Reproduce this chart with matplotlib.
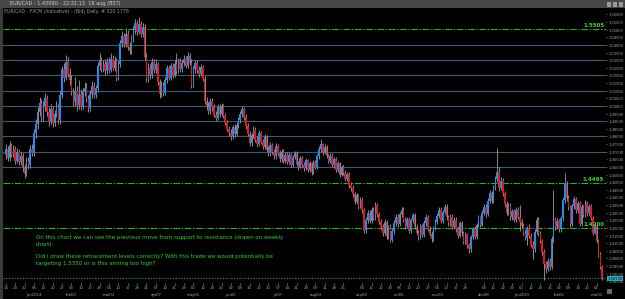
import matplotlib.pyplot as plt
import matplotlib.transforms as mtransforms
from matplotlib.patches import Rectangle
import numpy as np
import pandas as pd

# daily EUR/CAD candles, dec 16 2013 -> mar 2015
first_open = 1.4680
close = [
    1.4720, 1.4660, 1.4745, 1.4685, 1.4720, 1.4640, 1.4700, 1.4630, 1.4675, 1.4595,
    1.4555, 1.4640, 1.4610, 1.4720, 1.4690, 1.4820, 1.4880, 1.4960, 1.5020, 1.4930,
    1.5000, 1.5050, 1.4960, 1.4900, 1.4980, 1.4890, 1.4950, 1.4990, 1.4905, 1.5070,
    1.5240, 1.5185, 1.5290, 1.5210, 1.5170, 1.5090, 1.5030, 1.5100, 1.5005, 1.5080,
    1.5000, 1.5095, 1.5120, 1.5045, 1.4985, 1.5080, 1.5130, 1.5070, 1.5115, 1.5265,
    1.5300, 1.5245, 1.5275, 1.5230, 1.5290, 1.5235, 1.5310, 1.5250, 1.5295, 1.5185,
    1.5275, 1.5415, 1.5460, 1.5405, 1.5475, 1.5390, 1.5360, 1.5445, 1.5500, 1.5545,
    1.5485, 1.5540, 1.5470, 1.5520, 1.5320, 1.5180, 1.5250, 1.5200, 1.5290, 1.5235,
    1.5275, 1.5160, 1.5080, 1.5140, 1.5085, 1.5170, 1.5250, 1.5185, 1.5260, 1.5205,
    1.5275, 1.5230, 1.5295, 1.5240, 1.5285, 1.5310, 1.5265, 1.5330, 1.5285, 1.5140,
    1.5240, 1.5285, 1.5235, 1.5210, 1.5255, 1.5180, 1.5035, 1.4995, 1.4965, 1.5035,
    1.4990, 1.4940, 1.4920, 1.4995, 1.4950, 1.5000, 1.4935, 1.4890, 1.4850, 1.4820,
    1.4800, 1.4860, 1.4815, 1.4875, 1.4910, 1.4950, 1.4980, 1.4925, 1.4870, 1.4815,
    1.4755, 1.4810, 1.4845, 1.4780, 1.4750, 1.4820, 1.4765, 1.4730, 1.4795, 1.4710,
    1.4690, 1.4745, 1.4700, 1.4670, 1.4735, 1.4690, 1.4650, 1.4700, 1.4640, 1.4680,
    1.4635, 1.4680, 1.4615, 1.4665, 1.4690, 1.4620, 1.4600, 1.4660, 1.4610, 1.4595,
    1.4645, 1.4580, 1.4625, 1.4565, 1.4630, 1.4595, 1.4670, 1.4720, 1.4750, 1.4695,
    1.4730, 1.4670, 1.4640, 1.4675, 1.4610, 1.4650, 1.4580, 1.4625, 1.4550, 1.4600,
    1.4560, 1.4520, 1.4555, 1.4480, 1.4460, 1.4420, 1.4370, 1.4415, 1.4340, 1.4385,
    1.4315, 1.4185, 1.4255, 1.4300, 1.4245, 1.4320, 1.4265, 1.4350, 1.4290, 1.4240,
    1.4205, 1.4170, 1.4240, 1.4140, 1.4205, 1.4120, 1.4180, 1.4230, 1.4270, 1.4225,
    1.4290, 1.4320, 1.4255, 1.4215, 1.4260, 1.4180, 1.4250, 1.4285, 1.4205, 1.4170,
    1.4140, 1.4210, 1.4155, 1.4235, 1.4270, 1.4195, 1.4160, 1.4130, 1.4200, 1.4240,
    1.4280, 1.4320, 1.4245, 1.4305, 1.4340, 1.4270, 1.4230, 1.4275, 1.4205, 1.4255,
    1.4190, 1.4150, 1.4230, 1.4165, 1.4110, 1.4160, 1.4085, 1.4060, 1.4140, 1.4190,
    1.4140, 1.4220, 1.4270, 1.4220, 1.4300, 1.4340, 1.4290, 1.4380, 1.4430, 1.4380,
    1.4470, 1.4520, 1.4570, 1.4465, 1.4510, 1.4430, 1.4360, 1.4300, 1.4350, 1.4270,
    1.4310, 1.4255, 1.4320, 1.4275, 1.4240, 1.4215, 1.4170, 1.4135, 1.4200, 1.4150,
    1.4090, 1.4060, 1.4175, 1.4255, 1.4160, 1.4115, 1.4040, 1.3965, 1.3930, 1.3985,
    1.3945, 1.4125, 1.4255, 1.4205, 1.4245, 1.4190, 1.4265, 1.4385, 1.4495, 1.4395,
    1.4335, 1.4225, 1.4345, 1.4390, 1.4315, 1.4365, 1.4225, 1.4340, 1.4285, 1.4370,
    1.4295, 1.4345, 1.4265, 1.4170, 1.4215, 1.4115, 1.4025, 1.3945, 1.3870,
]
high = [
    1.4750, 1.4740, 1.4770, 1.4760, 1.4745, 1.4735, 1.4725, 1.4715, 1.4700, 1.4690,
    1.4620, 1.4665, 1.4665, 1.4745, 1.4750, 1.4850, 1.4915, 1.4990, 1.5060, 1.5045,
    1.5030, 1.5085, 1.5075, 1.4990, 1.5010, 1.5000, 1.4975, 1.5030, 1.5010, 1.5095,
    1.5265, 1.5280, 1.5335, 1.5320, 1.5250, 1.5200, 1.5120, 1.5190, 1.5130, 1.5170,
    1.5110, 1.5120, 1.5160, 1.5150, 1.5075, 1.5105, 1.5165, 1.5155, 1.5140, 1.5290,
    1.5345, 1.5320, 1.5300, 1.5310, 1.5315, 1.5320, 1.5345, 1.5335, 1.5325, 1.5315,
    1.5295, 1.5430, 1.5490, 1.5480, 1.5510, 1.5495, 1.5420, 1.5465, 1.5525, 1.5570,
    1.5565, 1.5585, 1.5560, 1.5545, 1.5535, 1.5345, 1.5280, 1.5275, 1.5315, 1.5310,
    1.5305, 1.5290, 1.5180, 1.5165, 1.5155, 1.5190, 1.5270, 1.5270, 1.5285, 1.5280,
    1.5300, 1.5350, 1.5315, 1.5315, 1.5300, 1.5335, 1.5330, 1.5355, 1.5345, 1.5310,
    1.5260, 1.5300, 1.5300, 1.5260, 1.5275, 1.5270, 1.5195, 1.5060, 1.5025, 1.5055,
    1.5050, 1.5010, 1.4965, 1.5015, 1.5010, 1.5020, 1.5015, 1.4955, 1.4910, 1.4870,
    1.4850, 1.4875, 1.4880, 1.4895, 1.4930, 1.4970, 1.5000, 1.4995, 1.4945, 1.4890,
    1.4835, 1.4825, 1.4870, 1.4860, 1.4800, 1.4840, 1.4835, 1.4785, 1.4815, 1.4810,
    1.4735, 1.4765, 1.4760, 1.4720, 1.4755, 1.4750, 1.4710, 1.4720, 1.4715, 1.4700,
    1.4695, 1.4695, 1.4690, 1.4680, 1.4705, 1.4705, 1.4640, 1.4675, 1.4675, 1.4630,
    1.4660, 1.4655, 1.4640, 1.4635, 1.4645, 1.4645, 1.4685, 1.4735, 1.4785, 1.4760,
    1.4750, 1.4745, 1.4685, 1.4690, 1.4690, 1.4665, 1.4665, 1.4640, 1.4635, 1.4615,
    1.4615, 1.4580, 1.4570, 1.4565, 1.4500, 1.4480, 1.4435, 1.4430, 1.4425, 1.4400,
    1.4400, 1.4330, 1.4270, 1.4320, 1.4315, 1.4340, 1.4335, 1.4370, 1.4365, 1.4305,
    1.4260, 1.4225, 1.4260, 1.4255, 1.4220, 1.4225, 1.4195, 1.4250, 1.4290, 1.4290,
    1.4305, 1.4340, 1.4335, 1.4275, 1.4275, 1.4275, 1.4265, 1.4300, 1.4295, 1.4225,
    1.4185, 1.4225, 1.4225, 1.4250, 1.4290, 1.4285, 1.4210, 1.4180, 1.4215, 1.4260,
    1.4295, 1.4335, 1.4335, 1.4320, 1.4360, 1.4355, 1.4285, 1.4290, 1.4290, 1.4270,
    1.4270, 1.4210, 1.4245, 1.4245, 1.4180, 1.4175, 1.4170, 1.4100, 1.4155, 1.4205,
    1.4210, 1.4235, 1.4285, 1.4280, 1.4315, 1.4360, 1.4355, 1.4395, 1.4450, 1.4445,
    1.4485, 1.4540, 1.4725, 1.4600, 1.4535, 1.4530, 1.4445, 1.4380, 1.4365, 1.4365,
    1.4325, 1.4325, 1.4335, 1.4335, 1.4350, 1.4260, 1.4230, 1.4185, 1.4215, 1.4225,
    1.4165, 1.4115, 1.4190, 1.4270, 1.4270, 1.4180, 1.4130, 1.4060, 1.3985, 1.4005,
    1.4000, 1.4145, 1.4450, 1.4275, 1.4265, 1.4260, 1.4280, 1.4405, 1.4560, 1.4505,
    1.4415, 1.4350, 1.4360, 1.4410, 1.4405, 1.4380, 1.4375, 1.4355, 1.4350, 1.4385,
    1.4380, 1.4360, 1.4355, 1.4280, 1.4230, 1.4230, 1.4130, 1.4045, 1.3960,
]
low = [
    1.4655, 1.4640, 1.4640, 1.4665, 1.4665, 1.4620, 1.4625, 1.4610, 1.4615, 1.4570,
    1.4530, 1.4540, 1.4585, 1.4595, 1.4670, 1.4675, 1.4790, 1.4850, 1.4935, 1.4900,
    1.4900, 1.4970, 1.4935, 1.4870, 1.4880, 1.4860, 1.4870, 1.4930, 1.4880, 1.4885,
    1.5050, 1.5160, 1.5170, 1.5190, 1.5140, 1.5070, 1.5000, 1.5000, 1.4965, 1.4980,
    1.4975, 1.4980, 1.5065, 1.5025, 1.4960, 1.4965, 1.5055, 1.5050, 1.5050, 1.5090,
    1.5235, 1.5225, 1.5220, 1.5205, 1.5210, 1.5215, 1.5220, 1.5235, 1.5230, 1.5165,
    1.5170, 1.5255, 1.5390, 1.5385, 1.5390, 1.5370, 1.5340, 1.5340, 1.5420, 1.5475,
    1.5465, 1.5470, 1.5455, 1.5450, 1.5300, 1.5160, 1.5160, 1.5180, 1.5185, 1.5215,
    1.5215, 1.5140, 1.5055, 1.5060, 1.5065, 1.5070, 1.5150, 1.5170, 1.5170, 1.5185,
    1.5190, 1.5210, 1.5215, 1.5220, 1.5225, 1.5260, 1.5250, 1.5250, 1.5270, 1.5120,
    1.5125, 1.5215, 1.5215, 1.5190, 1.5195, 1.5165, 1.5015, 1.4975, 1.4945, 1.4950,
    1.4970, 1.4925, 1.4900, 1.4905, 1.4930, 1.4935, 1.4920, 1.4875, 1.4835, 1.4800,
    1.4780, 1.4785, 1.4795, 1.4800, 1.4855, 1.4890, 1.4930, 1.4905, 1.4850, 1.4800,
    1.4740, 1.4740, 1.4790, 1.4765, 1.4730, 1.4735, 1.4750, 1.4715, 1.4715, 1.4695,
    1.4670, 1.4675, 1.4685, 1.4650, 1.4655, 1.4675, 1.4630, 1.4635, 1.4625, 1.4625,
    1.4620, 1.4620, 1.4600, 1.4600, 1.4650, 1.4605, 1.4580, 1.4590, 1.4595, 1.4575,
    1.4580, 1.4565, 1.4570, 1.4550, 1.4555, 1.4585, 1.4585, 1.4655, 1.4700, 1.4680,
    1.4685, 1.4660, 1.4625, 1.4625, 1.4600, 1.4595, 1.4570, 1.4565, 1.4535, 1.4540,
    1.4545, 1.4505, 1.4505, 1.4465, 1.4445, 1.4405, 1.4355, 1.4355, 1.4325, 1.4330,
    1.4300, 1.4165, 1.4170, 1.4235, 1.4230, 1.4230, 1.4250, 1.4255, 1.4275, 1.4225,
    1.4185, 1.4150, 1.4155, 1.4125, 1.4125, 1.4105, 1.4105, 1.4160, 1.4210, 1.4205,
    1.4210, 1.4275, 1.4240, 1.4195, 1.4200, 1.4165, 1.4165, 1.4235, 1.4190, 1.4155,
    1.4120, 1.4125, 1.4140, 1.4140, 1.4215, 1.4180, 1.4145, 1.4110, 1.4115, 1.4185,
    1.4225, 1.4265, 1.4230, 1.4230, 1.4290, 1.4255, 1.4215, 1.4215, 1.4190, 1.4190,
    1.4175, 1.4135, 1.4140, 1.4150, 1.4095, 1.4095, 1.4070, 1.4035, 1.4045, 1.4125,
    1.4125, 1.4125, 1.4205, 1.4205, 1.4210, 1.4285, 1.4275, 1.4280, 1.4365, 1.4365,
    1.4365, 1.4450, 1.4500, 1.4445, 1.4450, 1.4410, 1.4340, 1.4285, 1.4285, 1.4255,
    1.4255, 1.4240, 1.4240, 1.4260, 1.4180, 1.4200, 1.4155, 1.4120, 1.4085, 1.4135,
    1.4075, 1.3995, 1.4045, 1.4160, 1.4145, 1.4100, 1.4025, 1.3860, 1.3905, 1.3915,
    1.3925, 1.3930, 1.4105, 1.4185, 1.4190, 1.4175, 1.4175, 1.4245, 1.4365, 1.4375,
    1.4315, 1.4205, 1.4210, 1.4325, 1.4295, 1.4300, 1.4210, 1.4215, 1.4270, 1.4275,
    1.4280, 1.4285, 1.4255, 1.4155, 1.4160, 1.4100, 1.4010, 1.3930, 1.3860,
]

grid_levels = [1.46, 1.47, 1.48, 1.49, 1.50, 1.51, 1.52, 1.53, 1.54]
fib_levels = [1.5505, 1.4495, 1.4200]
fib_labels = ['1.5505', '1.4495', '1.4200']
last_price = 1.3870
start_day = '2013-12-16'

note_lines = [
    'On this chart we can see the previous move from support to resistance (drawn on weekly',
    'chart).',
    '',
    'Did i draw these retracement levels correctly? With this trade we would potentially be',
    'targeting 1.5350 or is this aiming too high?',
]

c = np.array(close)
h = np.array(high)
l = np.array(low)
o = np.concatenate([[first_open], c[:-1]])
h = np.maximum(h, np.maximum(o, c))
l = np.minimum(l, np.minimum(o, c))
n = len(c)
x = np.arange(n)
days = pd.bdate_range(start_day, periods=n)

W, H = 625, 299
fig = plt.figure(figsize=(W / 100, H / 100), dpi=100, facecolor='black')
ax = fig.add_axes([3 / W, 16 / H, 603 / W, 274 / H])
ax.set_facecolor('black')
for s in ax.spines.values():
    s.set_visible(False)
ydata = mtransforms.blended_transform_factory(ax.transAxes, ax.transData)

for lv in grid_levels:
    ax.axhline(lv, color='#3f5878', lw=0.8, zorder=1)
for lv, lab in zip(fib_levels, fib_labels):
    ax.axhline(lv, color='#26b326', lw=0.8, ls=(0, (6, 1.5, 1.2, 1.5)), zorder=2)
    ax.text(0.997, lv + 0.0004, lab, transform=ydata, ha='right', va='bottom',
            color='#3ad23a', fontsize=4, fontweight='bold', zorder=5)
ax.axhline(last_price, color='#1b8f9a', lw=0.8, ls=(0, (1, 1.5)), zorder=2)

ax.vlines(x, l, h, color='#8a8a8a', lw=0.7, zorder=3)
up = c >= o
body = np.maximum(np.abs(c - o), 0.0004)
ax.bar(x, body, bottom=np.minimum(o, c), width=0.85, lw=0,
       color=np.where(up, '#1c8ef0', '#e01818'), zorder=4)

ax.set_xlim(-1.5, n + 1)
ax.set_ylim(1.3839, 1.5636)

# price scale on the right
yt = np.arange(1.385, 1.563, 0.005)
ax.yaxis.tick_right()
ax.set_yticks(yt)
ax.set_yticklabels([f'{v:.5f}'.replace('.', ',') for v in yt], family='Liberation Sans')
ax.tick_params(axis='y', colors='#9a9a9a', labelsize=3.1, length=1, width=0.5, pad=0.6)
ax.text(1.003, last_price, f'{last_price:.5f}'.replace('.', ','), transform=ydata,
        ha='left', va='center', fontsize=3.1, family='Liberation Sans', color='#0a2a30',
        bbox=dict(boxstyle='square,pad=0.12', fc='#2aa6c4', ec='none'), zorder=6, clip_on=False)

# weekly ticks + month names
mondays = [i for i, d in enumerate(days) if d.weekday() == 0 and d.day != 1]
ax.set_xticks(mondays)
ax.set_xticklabels([days[i].strftime('%d') for i in mondays], family='Liberation Sans')
ax.tick_params(axis='x', colors='#9a9a9a', labelsize=3.2, length=1.5, width=0.5, pad=0.8)
xdata = mtransforms.blended_transform_factory(ax.transData, ax.transAxes)
seen = set()
for i in mondays:
    d = days[i]
    if (d.year, d.month) in seen:
        continue
    seen.add((d.year, d.month))
    if i == 0:
        continue
    lab = d.strftime('%b').lower() + (str(d.year) if d.month == 1 else d.strftime('%d'))
    ax.text(i, -0.042, lab, transform=xdata, ha='center', va='center', fontsize=3.2,
            family='Liberation Sans', color='#9a9a9a', clip_on=False)

for k, line in enumerate(note_lines):
    fig.text(36 / W, 1 - (238 + k * 6.3) / H, line, ha='left', va='center', fontsize=4, color='#33cc33')

# window chrome
fig.patches.append(Rectangle((0, 1 - 8 / H), 1, 8 / H, transform=fig.transFigure, fc='#474747', ec='none'))
fig.patches.append(Rectangle((0, 0), 3 / W, 1 - 8 / H, transform=fig.transFigure, fc='#3a3a3a', ec='none'))
fig.text(10 / W, 1 - 4 / H, 'EUR/CAD - 1,43980 - 22:31:13  18 aug (BST)', ha='left', va='center',
         fontsize=3.6, color='#d0d0d0')
fig.text(4 / W, 1 - 11.5 / H, 'EUR/CAD - FXCM (indicative) - (Bid) Daily, # 320 1778', ha='left', va='center',
         fontsize=3.3, color='#9a9a9a')
for bx in [607, 613, 619]:
    fig.patches.append(Rectangle((bx / W, 1 - 7 / H), 4 / W, 5 / H, transform=fig.transFigure,
                                 fc='#9a9a9a', ec='none'))
fig.patches.append(Rectangle((607 / W, 1 - 294 / H), 5 / W, 5 / H, transform=fig.transFigure,
                             fc='#5a6a80', ec='none'))

fig.savefig('out.png', dpi=100, facecolor='black')
